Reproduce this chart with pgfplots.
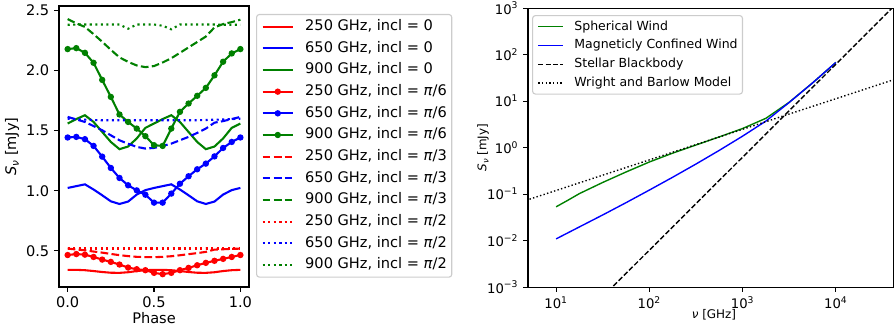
\documentclass[border=0pt]{standalone}
\usepackage{fontspec}
\setmainfont{DejaVu Sans}
\usepackage{pgfplots}
\pgfplotsset{compat=1.18}
\usepackage{pgfplotstable}

\definecolor{mplgreen}{rgb}{0,0.5,0}
\definecolor{mplred}{rgb}{1,0,0}
\definecolor{mplblue}{rgb}{0,0,1}
\definecolor{legframe}{gray}{0.8}

\newcommand\logtick[1]{\pgfmathtruncatemacro\myexp{round(#1)}10\textsuperscript{\ifnum\myexp<0 −\number-\myexp\else\myexp\fi}}
\newcommand\lfont{\fontsize{10.5}{12}\selectfont}
\newcommand\rlegfont{\fontsize{9}{11}\selectfont}

\pgfplotstableread{
ph    r0    b0    g0    r6    b6    g6    r3    b3    g3    r2    b2    g2
0.00  0.343 1.023 1.558 0.466 1.442 2.176 0.519 1.613 2.425 0.520 1.598 2.378
0.05  0.343 1.038 1.595 0.474 1.447 2.184 0.512 1.592 2.390 0.520 1.594 2.380
0.10  0.340 1.053 1.627 0.469 1.428 2.145 0.505 1.571 2.360 0.520 1.590 2.380
0.15  0.333 1.010 1.571 0.450 1.372 2.062 0.495 1.537 2.300 0.520 1.587 2.380
0.20  0.325 0.962 1.488 0.428 1.283 1.920 0.486 1.502 2.237 0.520 1.585 2.380
0.25  0.319 0.912 1.405 0.409 1.189 1.779 0.475 1.460 2.170 0.520 1.585 2.380
0.30  0.318 0.890 1.345 0.387 1.106 1.633 0.465 1.419 2.107 0.520 1.585 2.380
0.35  0.323 0.910 1.367 0.362 1.045 1.571 0.457 1.390 2.070 0.520 1.585 2.345
0.40  0.333 0.968 1.434 0.348 1.003 1.516 0.451 1.364 2.040 0.520 1.585 2.380
0.45  0.340 1.005 1.522 0.340 0.967 1.453 0.449 1.350 2.026 0.520 1.585 2.380
0.50  0.343 1.023 1.558 0.318 0.901 1.378 0.448 1.355 2.035 0.520 1.585 2.380
0.55  0.343 1.038 1.595 0.307 0.901 1.372 0.451 1.372 2.065 0.520 1.585 2.370
0.60  0.340 1.053 1.627 0.318 0.976 1.516 0.456 1.391 2.100 0.520 1.585 2.340
0.65  0.333 1.010 1.571 0.340 1.058 1.655 0.464 1.419 2.145 0.520 1.585 2.380
0.70  0.325 0.962 1.488 0.359 1.120 1.724 0.473 1.447 2.190 0.520 1.585 2.380
0.75  0.319 0.912 1.405 0.381 1.178 1.788 0.482 1.480 2.235 0.520 1.585 2.380
0.80  0.318 0.890 1.345 0.401 1.225 1.854 0.492 1.516 2.280 0.520 1.587 2.380
0.85  0.323 0.910 1.367 0.418 1.285 1.958 0.511 1.565 2.356 0.520 1.590 2.380
0.90  0.333 0.968 1.434 0.434 1.355 2.071 0.514 1.578 2.384 0.520 1.592 2.378
0.95  0.340 1.005 1.522 0.450 1.405 2.140 0.517 1.595 2.400 0.520 1.595 2.378
1.00  0.343 1.023 1.558 0.466 1.442 2.176 0.519 1.613 2.420 0.520 1.598 2.378
}\phasedata

\pgfplotstableread{
nu     S
10     0.0532
13.18  0.0724
17.78  0.1023
31.62  0.1778
56.23  0.2985
100    0.4898
177.8  0.7586
316.2  1.135
562.3  1.698
1000   2.570
1778   4.266
3162   9.441
5623   24.55
10000  67.76
}\sphwind

\pgfplotstableread{
nu     S
10     0.01086
17.78  0.01968
31.62  0.03556
56.23  0.06531
100    0.1219
177.8  0.2301
316.2  0.4426
562.3  0.871
1000   1.762
1778   3.715
3162   9.354
5623   24.55
10000  67.76
}\magwind

\pgfplotstableread{
nu     S
10     6.22e-5
100000 6223
}\blackbody

\pgfplotstableread{
nu     S
4      0.0654
50000  32.4
}\wrightbarlow

\pgfplotsset{
  mpldashed/.style={dash pattern=on 5.55pt off 2.4pt},
  mpldotted/.style={dash pattern=on 1.5pt off 2.475pt},
  mpldashedthin/.style={dash pattern=on 3.7pt off 1.6pt},
  mpldottedthin/.style={dash pattern=on 1pt off 1.65pt},
}

\begin{document}
\begin{tikzpicture}
\path[use as bounding box] (0,0) rectangle (643.7pt,236.9pt);

% ---------------- left panel ----------------
\begin{axis}[
  at={(42.5pt,30.2pt)}, anchor=south west,
  scale only axis, width=136.8pt, height=202.3pt,
  xmin=-0.05, xmax=1.05, ymin=0.2, ymax=2.533,
  axis line style={line width=1.4pt},
  tick pos=left, tick align=outside,
  major tick length=3.5pt,
  every tick/.style={line width=0.8pt, black},
  xtick={0,0.5,1}, xticklabels={0.0,0.5,1.0},
  ytick={0.5,1,1.5,2,2.5}, yticklabels={0.5,1.0,1.5,2.0,2.5},
  tick label style={font=\lfont},
  xlabel={Phase},
  ylabel={\textit{S}\raisebox{-0.35ex}{\fontsize{7.5}{8}\selectfont\textit{ν}} [mJy]},
  label style={font=\lfont},
  xlabel style={at={(axis description cs:0.5,-0.11)}, anchor=center},
  ylabel style={at={(axis description cs:-0.247,0.5)}, anchor=center},
  legend cell align=left,
  legend style={at={(1.037,0.972)}, anchor=north west, draw=legframe, line width=0.8pt,
    rounded corners=2pt, font=\lfont, inner sep=3.5pt,
    row sep=5.1pt,
    nodes={inner sep=0pt, text height=8pt, text depth=2.5pt, font=\lfont},
    /tikz/every odd column/.append style={column sep=8pt}},
  legend image code/.code={\draw[mark repeat=2,mark phase=2,#1,line width=1.5pt] plot coordinates {(0pt,0pt) (11pt,0pt) (22pt,0pt)};},
  every axis plot/.append style={line width=1.5pt},
]
\addplot[mplred, no marks] table[x=ph,y=r0] {\phasedata};
\addlegendentry{250 GHz, incl = 0}
\addplot[mplblue, no marks] table[x=ph,y=b0] {\phasedata};
\addlegendentry{650 GHz, incl = 0}
\addplot[mplgreen, no marks] table[x=ph,y=g0] {\phasedata};
\addlegendentry{900 GHz, incl = 0}
\addplot[mplred, mark=*, mark size=1.5pt] table[x=ph,y=r6] {\phasedata};
\addlegendentry{250 GHz, incl = \textit{π}/6}
\addplot[mplblue, mark=*, mark size=1.5pt] table[x=ph,y=b6] {\phasedata};
\addlegendentry{650 GHz, incl = \textit{π}/6}
\addplot[mplgreen, mark=*, mark size=1.5pt] table[x=ph,y=g6] {\phasedata};
\addlegendentry{900 GHz, incl = \textit{π}/6}
\addplot[mplred, no marks, mpldashed] table[x=ph,y=r3] {\phasedata};
\addlegendentry{250 GHz, incl = \textit{π}/3}
\addplot[mplblue, no marks, mpldashed] table[x=ph,y=b3] {\phasedata};
\addlegendentry{650 GHz, incl = \textit{π}/3}
\addplot[mplgreen, no marks, mpldashed] table[x=ph,y=g3] {\phasedata};
\addlegendentry{900 GHz, incl = \textit{π}/3}
\addplot[mplred, no marks, mpldotted] table[x=ph,y=r2] {\phasedata};
\addlegendentry{250 GHz, incl = \textit{π}/2}
\addplot[mplblue, no marks, mpldotted] table[x=ph,y=b2] {\phasedata};
\addlegendentry{650 GHz, incl = \textit{π}/2}
\addplot[mplgreen, no marks, mpldotted] table[x=ph,y=g2] {\phasedata};
\addlegendentry{900 GHz, incl = \textit{π}/2}
\end{axis}

% ---------------- right panel ----------------
\begin{axis}[
  at={(380.2pt,30.2pt)}, anchor=south west,
  scale only axis, width=263.5pt, height=200.9pt,
  xmode=log, ymode=log, log basis x=10, log basis y=10,
  xmin=5, xmax=4.2e4, ymin=1e-3, ymax=1e3,
  ytick={1e-3,1e-2,1e-1,1,1e1,1e2,1e3},
  xtick={10,100,1000,10000},
  axis line style={line width=0.8pt},
  tick pos=left, tick align=outside,
  major tick length=3.5pt, minor tick length=2pt,
  every tick/.style={black},
  major tick style={line width=0.8pt},
  minor tick style={line width=0.6pt},
  xticklabel={\logtick{\tick}}, yticklabel={\logtick{\tick}},
  tick label style={font=\fontsize{9.5}{11}\selectfont},
  xlabel={\textit{ν} [GHz]},
  ylabel={\textit{S}\raisebox{-0.35ex}{\fontsize{6}{7}\selectfont\textit{ν}} [mJy]},
  label style={font=\fontsize{8.6}{10}\selectfont},
  xlabel style={at={(axis description cs:0.508,-0.10)}, anchor=center},
  ylabel style={at={(axis description cs:-0.123,0.5)}, anchor=center},
  legend cell align=left,
  legend style={at={(0.011,0.975)}, anchor=north west, draw=legframe, line width=0.8pt,
    rounded corners=2pt, font=\rlegfont, inner sep=3.5pt,
    row sep=4.5pt,
    nodes={inner sep=0pt, text height=7pt, text depth=2pt, font=\rlegfont},
    /tikz/every odd column/.append style={column sep=7.5pt}},
]
\addplot[color=mplgreen, line width=1pt, no marks,
  legend image code/.code={\draw[color=mplgreen, line width=1.1pt] (0pt,0pt) -- (18pt,0pt);}]
  table[x=nu,y=S] {\sphwind};
\addlegendentry{Spherical Wind}
\addplot[color=mplblue, line width=1pt, no marks,
  legend image code/.code={\draw[color=mplblue, line width=1.1pt] (0pt,0pt) -- (18pt,0pt);}]
  table[x=nu,y=S] {\magwind};
\addlegendentry{Magneticly Confined Wind}
\addplot[color=black, line width=1pt, no marks, mpldashedthin,
  legend image code/.code={\draw[color=black, line width=1pt, dash pattern=on 3.7pt off 1.6pt] (0pt,0pt) -- (18pt,0pt);}]
  table[x=nu,y=S] {\blackbody};
\addlegendentry{Stellar Blackbody}
\addplot[color=black, line width=1pt, no marks, mpldottedthin,
  legend image code/.code={\draw[color=black, line width=1pt, dash pattern=on 1pt off 1.65pt] (0pt,0pt) -- (18pt,0pt);}]
  table[x=nu,y=S] {\wrightbarlow};
\addlegendentry{Wright and Barlow Model}
\end{axis}
\end{tikzpicture}
\end{document}
